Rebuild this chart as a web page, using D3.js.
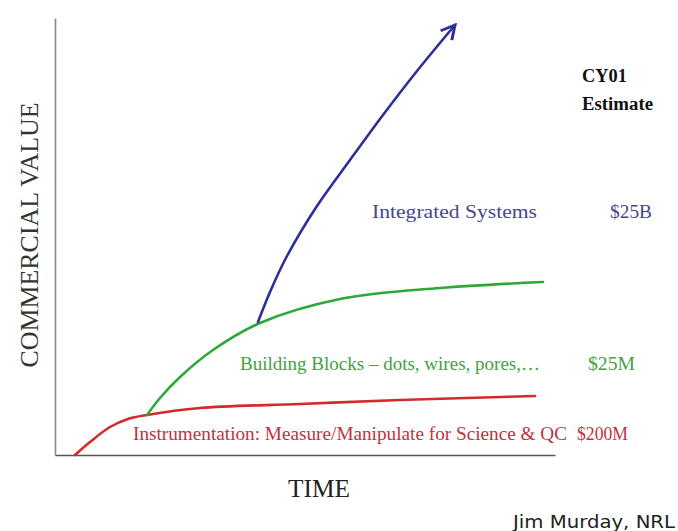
<!DOCTYPE html>
<html><head><meta charset="utf-8">
<script src="https://cdn.jsdelivr.net/npm/d3@7"></script>
<style>body{margin:0;background:#fff}svg{display:block}</style>
</head><body><svg id="c" width="678" height="531"></svg>
<script>
// Data in chart units: time (0..500), commercial value (0..437)
const instrumentationT = [20, 35, 55, 73, 92, 145, 245, 345, 480];
const instrumentationV = [0, 13, 28, 36, 40, 47, 51, 55, 59];
const buildingT = [92, 105, 125, 158, 205, 285, 385, 488];
const buildingV = [40, 57, 78, 105, 132, 156, 167, 173];
const integratedT = [203, 215, 232, 262, 295, 328, 362, 400];
const integratedV = [133, 163, 199, 249, 295, 340, 384, 430];
const seriesNames = ["Instrumentation: Measure/Manipulate for Science & QC", "Building Blocks \u2013 dots, wires, pores,\u2026", "Integrated Systems"];
const estimates = ["$200M", "$25M", "$25B"];
const labelT = [78, 185, 317];
const labelV = [15, 85, 237];
const estT = [522, 533, 555];

const svg = d3.select("#c");
const x = d3.scaleLinear().domain([0, 500]).range([55, 555]);
const y = d3.scaleLinear().domain([0, 437]).range([455, 18]);

// axes (no ticks)
svg.append("g").attr("transform", "translate(0,455)")
  .call(d3.axisBottom(x).tickValues([]).tickSizeOuter(0))
  .select(".domain").attr("stroke", "#555").attr("stroke-width", 1.6);
svg.append("g").attr("transform", "translate(55,0)")
  .call(d3.axisLeft(y).tickValues([]).tickSizeOuter(0))
  .select(".domain").attr("stroke", "#888").attr("stroke-width", 1.6);

const colors = ["#d42a2a", "#2fa83a", "#2e2e9a"];
const textColors = ["#c43040", "#3fa33f", "#46468f"];
const sets = [[instrumentationT, instrumentationV], [buildingT, buildingV], [integratedT, integratedV]];

svg.append("defs").append("marker").attr("id", "arr")
  .attr("viewBox", "0 0 10 10").attr("refX", 8.5).attr("refY", 5)
  .attr("markerWidth", 7).attr("markerHeight", 7).attr("orient", "auto")
  .attr("markerUnits", "strokeWidth")
  .append("path").attr("d", "M1,1 L8.5,5 L1,9").attr("fill", "none")
  .attr("stroke", colors[2]).attr("stroke-width", 1.6);

const line = d3.line().x(d => x(d[0])).y(d => y(d[1])).curve(d3.curveCatmullRom.alpha(0.5));
sets.forEach((s, i) => {
  const pts = s[0].map((t, j) => [t, s[1][j]]);
  svg.append("path").attr("d", line(pts)).attr("fill", "none")
    .attr("stroke", colors[i]).attr("stroke-width", 2.6)
    .attr("stroke-linecap", "round")
    .attr("marker-end", i === 2 ? "url(#arr)" : null);
});

const serif = "'Liberation Serif','Times New Roman',serif";
const nameLen = [434, 300, 165];
const estLen = [51, 47, 42];
seriesNames.forEach((n, i) => {
  svg.append("text").attr("x", x(labelT[i])).attr("y", y(labelV[i]))
    .attr("font-family", serif).attr("font-size", 19).attr("fill", textColors[i])
    .attr("textLength", nameLen[i]).attr("lengthAdjust", "spacingAndGlyphs")
    .text(n);
  svg.append("text").attr("x", x(estT[i])).attr("y", y(labelV[i]))
    .attr("font-family", serif).attr("font-size", 18).attr("fill", textColors[i])
    .attr("textLength", estLen[i]).attr("lengthAdjust", "spacingAndGlyphs")
    .text(estimates[i]);
});

svg.append("text").attr("x", 582).attr("y", 82).attr("font-family", serif)
  .attr("font-weight", "bold").attr("font-size", 18).attr("fill", "#111")
  .attr("textLength", 45).attr("lengthAdjust", "spacingAndGlyphs").text("CY01");
svg.append("text").attr("x", 582).attr("y", 110).attr("font-family", serif)
  .attr("font-weight", "bold").attr("font-size", 18).attr("fill", "#111")
  .attr("textLength", 71).attr("lengthAdjust", "spacingAndGlyphs").text("Estimate");

svg.append("text").attr("transform", "translate(38,235) rotate(-90)")
  .attr("text-anchor", "middle").attr("font-family", serif).attr("font-size", 25)
  .attr("fill", "#333").attr("textLength", 265).attr("lengthAdjust", "spacingAndGlyphs")
  .text("COMMERCIAL VALUE");
svg.append("text").attr("x", 319).attr("y", 497).attr("text-anchor", "middle")
  .attr("font-family", serif).attr("font-size", 25).attr("fill", "#222")
  .attr("textLength", 62).attr("lengthAdjust", "spacingAndGlyphs").text("TIME");
svg.append("text").attr("x", 513).attr("y", 528)
  .attr("font-family", "'DejaVu Sans',sans-serif").attr("font-size", 18).attr("fill", "#222")
  .attr("textLength", 162).attr("lengthAdjust", "spacingAndGlyphs")
  .text("Jim Murday, NRL");
</script></body></html>
